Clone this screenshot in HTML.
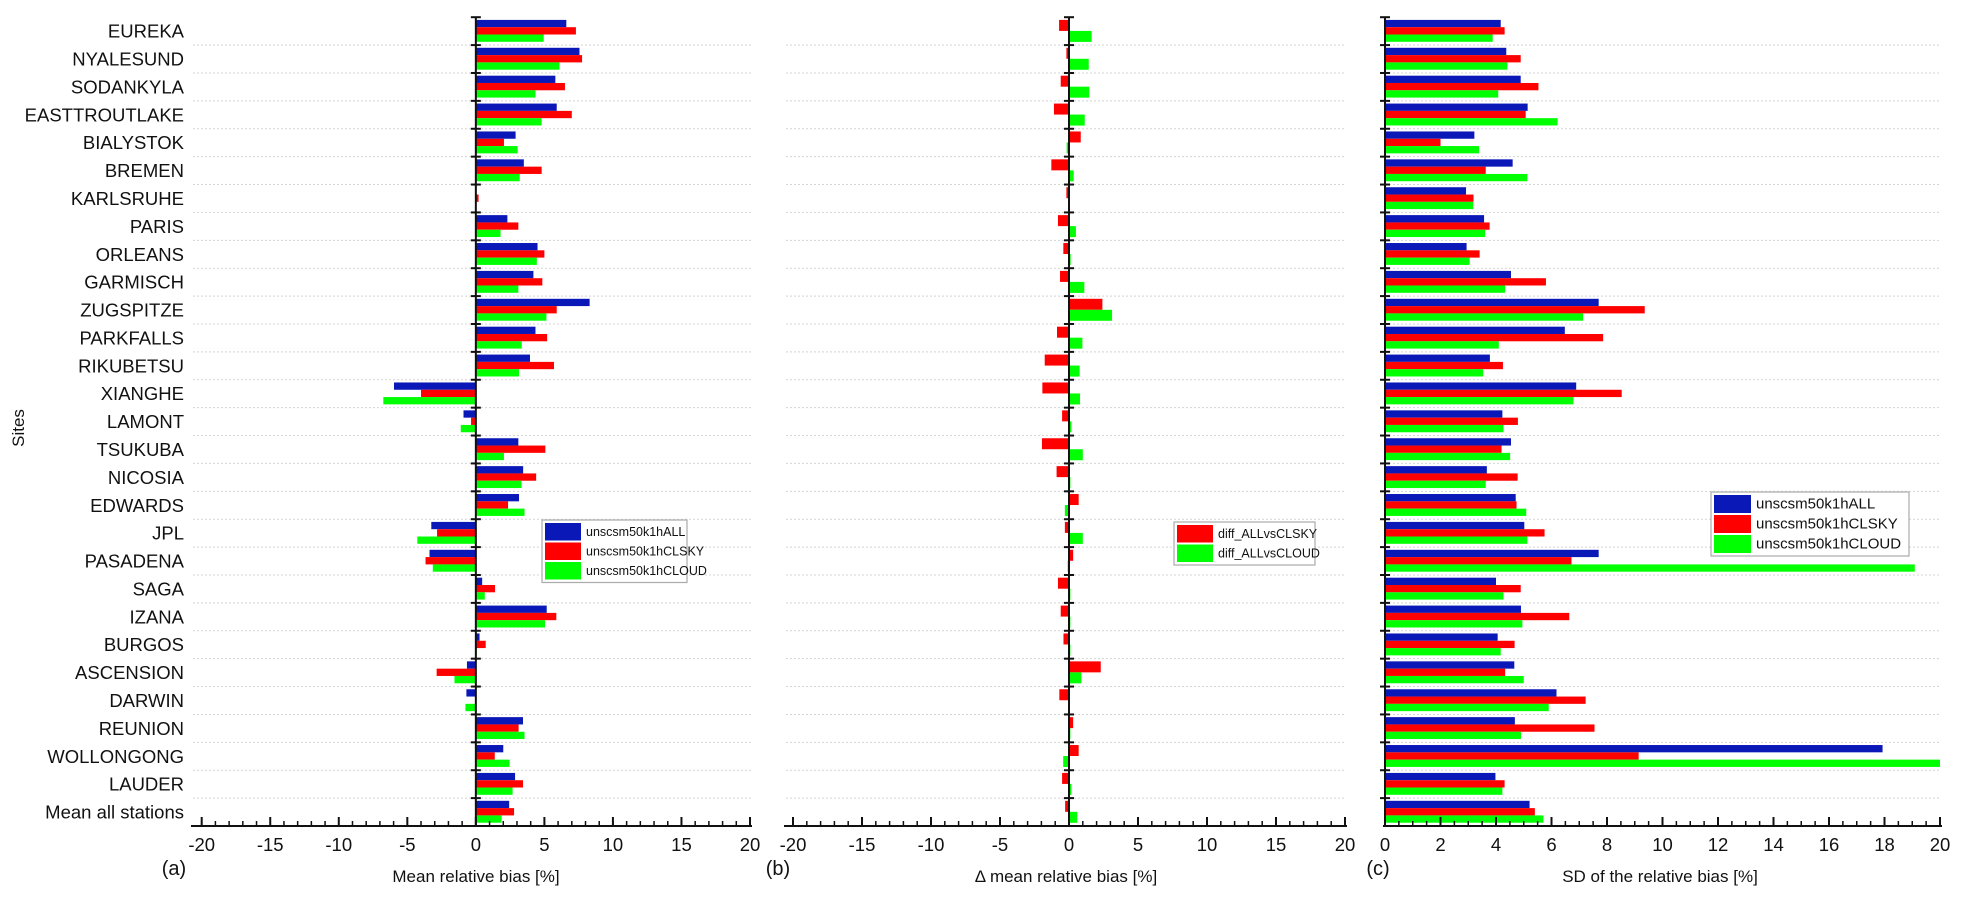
<!DOCTYPE html>
<html><head><meta charset="utf-8"><style>
html,body{margin:0;padding:0;background:#fff;}
svg{display:block;font-family:"Liberation Sans",Arial,sans-serif;}
</style></head><body>
<svg id="chart" width="1962" height="901" viewBox="0 0 1962 901"></svg>
<script>
const sites=["EUREKA","NYALESUND","SODANKYLA","EASTTROUTLAKE","BIALYSTOK","BREMEN","KARLSRUHE","PARIS","ORLEANS","GARMISCH","ZUGSPITZE","PARKFALLS","RIKUBETSU","XIANGHE","LAMONT","TSUKUBA","NICOSIA","EDWARDS","JPL","PASADENA","SAGA","IZANA","BURGOS","ASCENSION","DARWIN","REUNION","WOLLONGONG","LAUDER","Mean all stations"];
const meanAll=[6.6,7.56,5.8,5.9,2.9,3.5,0,2.3,4.5,4.2,8.3,4.35,3.95,-5.97,-0.9,3.1,3.45,3.15,-3.25,-3.38,0.46,5.17,0.27,-0.65,-0.69,3.44,2.0,2.86,2.43];
const meanClsky=[7.3,7.75,6.5,7.0,2.05,4.8,0.2,3.1,5.0,4.85,5.9,5.2,5.7,-4.0,-0.35,5.07,4.4,2.35,-2.83,-3.67,1.4,5.87,0.72,-2.86,0.04,3.12,1.38,3.44,2.79];
const meanCloud=[4.95,6.1,4.35,4.8,3.05,3.2,0,1.8,4.45,3.1,5.15,3.35,3.15,-6.75,-1.1,2.05,3.33,3.55,-4.27,-3.14,0.65,5.05,0.07,-1.56,-0.76,3.55,2.46,2.68,1.88];
const diffClsky=[-0.72,-0.19,-0.6,-1.09,0.85,-1.28,-0.19,-0.8,-0.41,-0.65,2.42,-0.87,-1.76,-1.93,-0.5,-1.96,-0.9,0.7,-0.3,0.3,-0.8,-0.6,-0.4,2.3,-0.7,0.3,0.7,-0.5,-0.28];
const diffCloud=[1.64,1.43,1.47,1.14,-0.17,0.34,0.03,0.5,0.12,1.11,3.12,0.97,0.77,0.8,0.17,1.0,0.1,-0.3,1.0,-0.1,0.1,0.1,0.1,0.9,0.05,0.1,-0.42,0.17,0.6];
const sdAll=[4.17,4.37,4.89,5.14,3.22,4.6,2.92,3.57,2.94,4.54,7.7,6.48,3.78,6.89,4.23,4.54,3.67,4.71,5.02,7.7,4.0,4.9,4.06,4.66,6.18,4.68,17.93,3.98,5.21];
const sdClsky=[4.31,4.89,5.53,5.07,2.0,3.63,3.19,3.77,3.41,5.8,9.36,7.86,4.25,8.53,4.79,4.2,4.78,4.74,5.75,6.72,4.89,6.64,4.67,4.33,7.23,7.55,9.14,4.31,5.4];
const sdCloud=[3.88,4.41,4.08,6.22,3.39,5.13,3.18,3.61,3.05,4.33,7.14,4.1,3.54,6.79,4.27,4.51,3.63,5.09,5.13,19.09,4.27,4.95,4.17,5.0,5.9,4.9,20.0,4.23,5.71];
const ticksAB=[-20,-15,-10,-5,0,5,10,15,20];
const ticksC=[0,2,4,6,8,10,12,14,16,18,20];

const NS="http://www.w3.org/2000/svg";
const svg=document.getElementById('chart');
const BLUE="#0a18b8",RED="#ff0000",GREEN="#00ff00";
const TOP=17.2,BASE=826,ROWH=(BASE-TOP)/sites.length;
function rowY(i){return TOP+i*ROWH;}
function mk(tag,attrs,parent){const e=document.createElementNS(NS,tag);for(const k in attrs)e.setAttribute(k,attrs[k]);(parent||svg).appendChild(e);return e;}
function txt(s,attrs){const t=mk('text',attrs);t.textContent=s;return t;}

const panels=[
 {name:'a',x0:201.7,x1:750,min:-20,max:20,grid:[193,752],ticks:ticksAB,minor:1,series:[[meanAll,BLUE],[meanClsky,RED],[meanCloud,GREEN]],title:"Mean relative bias [%]",tx:476,lab:"(a)",lx:174},
 {name:'b',x0:793,x1:1345,min:-20,max:20,grid:[786,1345],ticks:ticksAB,minor:1,series:[[diffClsky,RED],[diffCloud,GREEN]],title:"\u0394 mean relative bias [%]",tx:1066,lab:"(b)",lx:778},
 {name:'c',x0:1385,x1:1940,min:0,max:20,grid:[1385,1940],ticks:ticksC,minor:0.5,series:[[sdAll,BLUE],[sdClsky,RED],[sdCloud,GREEN]],title:"SD of the relative bias [%]",tx:1660,lab:"(c)",lx:1378}
];

sites.forEach((s,i)=>{
  const t=txt(s,{x:184,y:rowY(i)+ROWH/2+6.5,'font-size':18.5,'text-anchor':'end',fill:'#111'});
  
  
});
const st=txt("Sites",{x:0,y:0,'font-size':17,'text-anchor':'middle',fill:'#111',transform:'translate(24,428) rotate(-90)'});



panels.forEach(p=>{
  const sx=v=>p.x0+(v-p.min)/(p.max-p.min)*(p.x1-p.x0);
  const g=mk('g',{});
  
  
  for(let i=1;i<sites.length;i++){
    const y=rowY(i);
    const l=mk('line',{x1:p.grid[0],x2:p.grid[1],y1:y,y2:y,stroke:'#d4d4d4','stroke-width':1,'stroke-dasharray':'2,2'},g);
    
    
  }
  const n=p.series.length;
  const bh=n===3?7.3:11, off=2.7;
  p.series.forEach((ser,k)=>{
    const [vals,col]=ser;
    vals.forEach((v,i)=>{
      const a=sx(0),b=sx(v);
      const r=mk('rect',{x:Math.min(a,b),y:rowY(i)+off+k*bh,width:Math.max(Math.abs(b-a),0.01),height:bh,fill:col},g);
      
      
    });
  });
  const z=sx(0);
  const ya=mk('line',{x1:z,x2:z,y1:TOP,y2:BASE,stroke:'#111','stroke-width':2},g);
  
  
  for(let i=0;i<sites.length;i++){
    const y=rowY(i);
    mk('line',{x1:z-5,x2:z+5,y1:y,y2:y,stroke:'#111','stroke-width':2},g);
  }
  const xa=mk('line',{x1:p.grid[0]-2,x2:p.x1+2,y1:BASE,y2:BASE,stroke:'#111','stroke-width':2},g);
  
  
  for(let v=p.min;v<=p.max+1e-9;v+=p.minor){
    const x=sx(v);
    mk('line',{x1:x,x2:x,y1:BASE,y2:BASE-5,stroke:'#111','stroke-width':1.5},g);
  }
  p.ticks.forEach(v=>{
    const x=sx(v);
    mk('line',{x1:x,x2:x,y1:BASE,y2:BASE-9,stroke:'#111','stroke-width':2},g);
    const t=txt(String(v),{x:x,y:BASE+25,'font-size':18.5,'text-anchor':'middle',fill:'#111'});
    g.appendChild(t);
    
    
  });
  const tt=txt(p.title,{x:p.tx,y:BASE+56,'font-size':17,'text-anchor':'middle',fill:'#111'});
  
  
  const pl=txt(p.lab,{x:p.lx,y:BASE+49,'font-size':20,'text-anchor':'middle',fill:'#111'});
  
  
});

function legend(x,y,w,rowh,fs,sw,entries,name){
  const g=mk('g',{});
  
  
  mk('rect',{x:x,y:y,width:w,height:rowh*entries.length+4,fill:'#fff',stroke:'#aaa','stroke-width':1.2},g);
  entries.forEach((e,i)=>{
    const r=mk('rect',{x:x+3,y:y+3+i*rowh,width:sw,height:rowh-2,fill:e[1]},g);
    
    
    const t=txt(e[0],{x:x+sw+8,y:y+2+i*rowh+rowh*0.72,'font-size':fs,fill:'#111'});
    g.appendChild(t);
    
    
  });
}
legend(542,520,145,19.5,12.5,36,[["unscsm50k1hALL",BLUE],["unscsm50k1hCLSKY",RED],["unscsm50k1hCLOUD",GREEN]],'legend-a');
legend(1174,522,141,19.5,12.5,36,[["diff_ALLvsCLSKY",RED],["diff_ALLvsCLOUD",GREEN]],'legend-b');
legend(1711,492,198,20,15,37,[["unscsm50k1hALL",BLUE],["unscsm50k1hCLSKY",RED],["unscsm50k1hCLOUD",GREEN]],'legend-c');
</script>
</body></html>
